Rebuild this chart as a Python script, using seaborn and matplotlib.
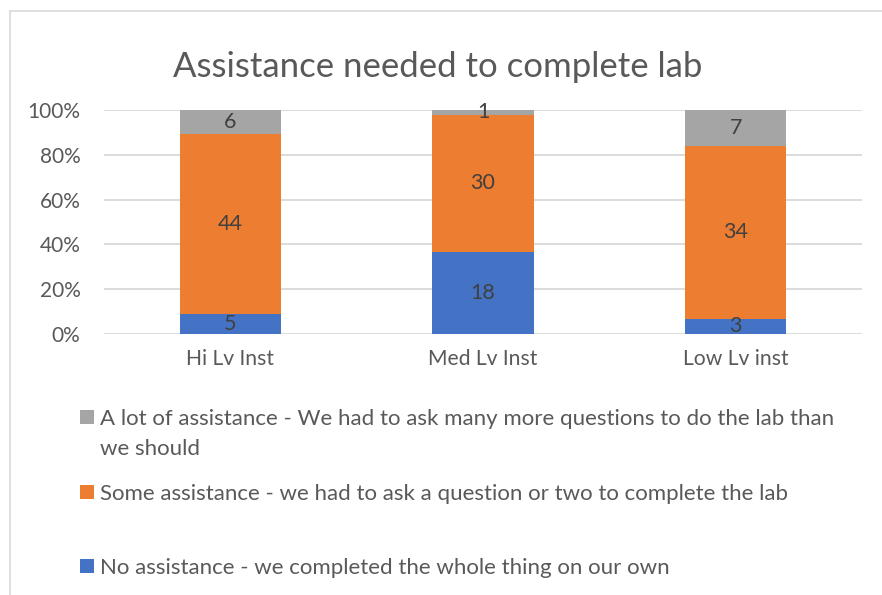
import matplotlib
matplotlib.use("Agg")
import matplotlib.pyplot as plt
import seaborn as sns
import pandas as pd
import numpy as np
from matplotlib.patches import Rectangle
from matplotlib.lines import Line2D

categories = ["Hi Lv Inst", "Med Lv Inst", "Low Lv inst"]
no_assist = [5, 18, 3]
some_assist = [44, 30, 34]
lot_assist = [6, 1, 7]
series_names = [
    "No assistance - we completed the whole thing on our own",
    "Some assistance - we had to ask a question or two to complete the lab",
    "A lot of assistance - We had to ask many more questions to do the lab than\nwe should",
]
colors = ["#4472C4", "#ED7D31", "#A5A5A5"]
yticks = [0, 20, 40, 60, 80, 100]
title = "Assistance needed to complete lab"

sns.set_theme(style="white")
plt.rcParams["font.family"] = ["Lato", "DejaVu Sans"]
TXT = "#595959"

vals = np.array([no_assist, some_assist, lot_assist], dtype=float)
totals = vals.sum(axis=0)
pct = vals / totals * 100
cum = np.cumsum(pct, axis=0)

fig = plt.figure(figsize=(8.82, 5.95), dpi=100)
ax = fig.add_axes([104 / 882, 1 - 334 / 595, 758 / 882, 224 / 595])

# draw from top layer down
for i in [2, 1, 0]:
    df = pd.DataFrame({"cat": categories, "val": cum[i]})
    sns.barplot(data=df, x="cat", y="val", color=colors[i], saturation=1,
                width=0.4, ax=ax, zorder=3, linewidth=0)

for i in range(3):
    for j in range(3):
        ax.text(j, cum[i][j] - pct[i][j] / 2, f"{int(vals[i][j])}",
                ha="center", va="center", fontsize=15.5, color="#404040", zorder=5)

ax.set_ylim(0, 100)
ax.set_xlim(-0.5, 2.5)
ax.set_yticks(yticks)
ax.set_yticklabels([f"{t}%" for t in yticks], fontsize=15, color=TXT)
ax.tick_params(axis="x", labelsize=15.2, labelcolor=TXT, pad=11, length=0)
ax.tick_params(axis="y", pad=17, length=0)
ax.set_xlabel("")
ax.set_ylabel("")
ax.grid(axis="y", color="#D9D9D9", linewidth=1.3, zorder=0)
ax.set_axisbelow(True)
for s in ax.spines.values():
    s.set_visible(False)

fig.text(438 / 882, 1 - 67 / 595, title, ha="center", va="center",
         fontsize=25, color=TXT)

# legend
leg_rows = [(417, 2), (492, 1), (566, 0)]
for ypx, idx in leg_rows:
    fig.patches.append(Rectangle((80 / 882, 1 - (ypx + 7) / 595), 14 / 882, 14 / 595,
                                 transform=fig.transFigure, facecolor=colors[idx],
                                 edgecolor="none"))
    fig.text(100 / 882, 1 - (ypx - 8) / 595, series_names[idx], ha="left", va="top",
             fontsize=16, color=TXT, linespacing=1.62)

# chart border
fig.add_artist(Line2D([10 / 882, 10 / 882], [0, 1 - 11 / 595], transform=fig.transFigure,
                      color="#D9D9D9", linewidth=1.2))
fig.add_artist(Line2D([10 / 882, 1], [1 - 11 / 595, 1 - 11 / 595], transform=fig.transFigure,
                      color="#D9D9D9", linewidth=1.2))

fig.savefig("out.png", dpi=100)
